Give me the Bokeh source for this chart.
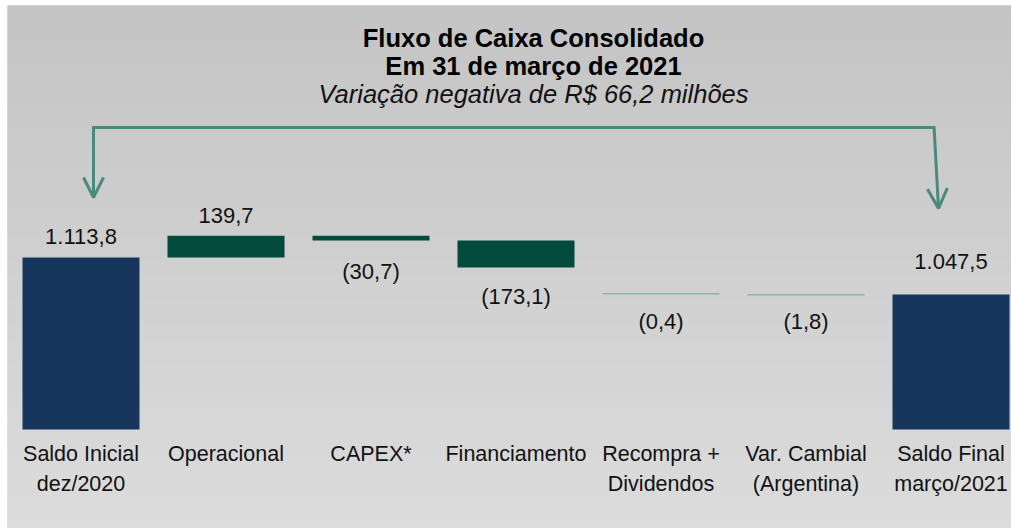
from bokeh.plotting import figure
from bokeh.models import Range1d, Arrow, OpenHead, ColumnDataSource
from bokeh.core.properties import value
from bokeh.embed import file_html
from bokeh.resources import INLINE

# ---------------- data ----------------
categories = ["Saldo Inicial\ndez/2020", "Operacional", "CAPEX*", "Financiamento",
              "Recompra +\nDividendos", "Var. Cambial\n(Argentina)", "Saldo Final\nmarço/2021"]
values = [1113.8, 139.7, -30.7, -173.1, -0.4, -1.8, 1047.5]
value_labels = ["1.113,8", "139,7", "(30,7)", "(173,1)", "(0,4)", "(1,8)", "1.047,5"]
# bar extents as drawn in the original (the chart is not to scale), chart units
bar_from = [0, 172, 193.7, 189, 136.5, 135.5, 0]
bar_to = [172, 193.7, 189, 162, 135, 134, 135]

title_lines = ["Fluxo de Caixa Consolidado", "Em 31 de março de 2021"]
subtitle = "Variação negativa de R$ 66,2 milhões"

# ---------------- style ----------------
NAVY = "#17365d"
GREEN = "#024b3c"
HAIR = "#8fb5a9"
ARROW = "#4a8a7b"
bar_colors = [NAVY, GREEN, GREEN, GREEN, HAIR, HAIR, NAVY]
label_gap = [13.7, 12.6, 38, 36, 34, 33, 26]
FONT = "Liberation Sans"
TS = 7.5  # baseline correction for svg text

W, H = 1011, 528
LB, TB = 7, 5
FW = W - LB
C0 = 73.5  # frame px of first category centre
Y_TOP, Y_BOT = 429 - TB, 429 - H
p = figure(width=W, height=H, output_backend="svg", toolbar_location=None,
           x_range=Range1d(-C0 / 145.0, (FW - C0) / 145.0), y_range=Range1d(Y_BOT, Y_TOP),
           x_axis_location=None, y_axis_location=None, min_border=0,
           min_border_left=LB, min_border_top=TB, tools="")
p.grid.visible = False
p.outline_line_color = None
p.background_fill_color = "#d0d0d0"
p.border_fill_color = "white"

# background vertical gradient
n = 64
y0, y1 = Y_BOT, Y_TOP
top_c = (0xc4, 0xc4, 0xc4)
bot_c = (0xdc, 0xdc, 0xdc)
bl, bt, bc = [], [], []
for k in range(n):
    a = y0 + (y1 - y0) * k / n
    b = y0 + (y1 - y0) * (k + 1) / n
    t = 1 - (k + 0.5) / n
    c = tuple(int(round(top_c[j] * (1 - t) + bot_c[j] * t)) for j in range(3))
    bl.append(a - 0.6)
    bt.append(b + 0.6)
    bc.append("#%02x%02x%02x" % c)
p.quad(left=-1, right=8, bottom=bl, top=bt, fill_color=bc, line_color=None)

# bars
xs = list(range(len(categories)))
half = 117 / 145 / 2
src = ColumnDataSource(dict(
    left=[x - half for x in xs], right=[x + half for x in xs],
    bottom=[min(a, b) for a, b in zip(bar_from, bar_to)],
    top=[max(a, b) for a, b in zip(bar_from, bar_to)],
    color=bar_colors))
p.quad(left="left", right="right", bottom="bottom", top="top",
       fill_color="color", line_color=None, source=src)

# value labels
ly = []
for v, a, b, g in zip(values, bar_from, bar_to, label_gap):
    if v >= 0:
        ly.append(max(a, b) + g + TS)
    else:
        ly.append(min(a, b) - g + TS)
p.text(x=xs, y=ly, text=value_labels, text_align="center", text_baseline="alphabetic",
       text_font=value(FONT), text_font_size="22px", text_color="#111111")

# category labels (two lines)
line1 = [c.split("\n")[0] for c in categories]
line2 = [c.split("\n")[1] if "\n" in c else "" for c in categories]
p.text(x=xs, y=[-32 + TS] * len(xs), text=line1, text_align="center", text_baseline="alphabetic",
       text_font=value(FONT), text_font_size="21.5px", text_color="#111111")
p.text(x=xs, y=[-62 + TS] * len(xs), text=line2, text_align="center", text_baseline="alphabetic",
       text_font=value(FONT), text_font_size="21.5px", text_color="#111111")

# titles
tx = (526 - C0) / 145
p.text(x=[tx, tx], y=[384 + TS, 356 + TS], text=title_lines, text_align="center",
       text_baseline="alphabetic", text_font=value(FONT), text_font_size="25.5px",
       text_font_style="bold", text_color="#000000")
p.text(x=[tx], y=[328 + TS], text=[subtitle], text_align="center",
       text_baseline="alphabetic", text_font=value(FONT), text_font_size="25.5px",
       text_font_style="italic", text_color="#111111")

# connector arrow from final to initial balance
xl = xs[0] + 12.5 / 145
xr_top = xs[-1] - 17 / 145
xr_tip = xs[-1] - 12.5 / 145
y_top = 302
p.line(x=[xl, xr_top], y=[y_top, y_top], line_color=ARROW, line_width=3)
p.add_layout(Arrow(x_start=xl, y_start=y_top + 1.5, x_end=xl, y_end=232,
                   line_color=ARROW, line_width=3,
                   end=OpenHead(size=20, line_color=ARROW, line_width=3)))
p.add_layout(Arrow(x_start=xr_top, y_start=y_top + 1.5, x_end=xr_tip, y_end=221,
                   line_color=ARROW, line_width=3,
                   end=OpenHead(size=20, line_color=ARROW, line_width=3)))

open("out.html", "w").write(file_html(p, INLINE))
